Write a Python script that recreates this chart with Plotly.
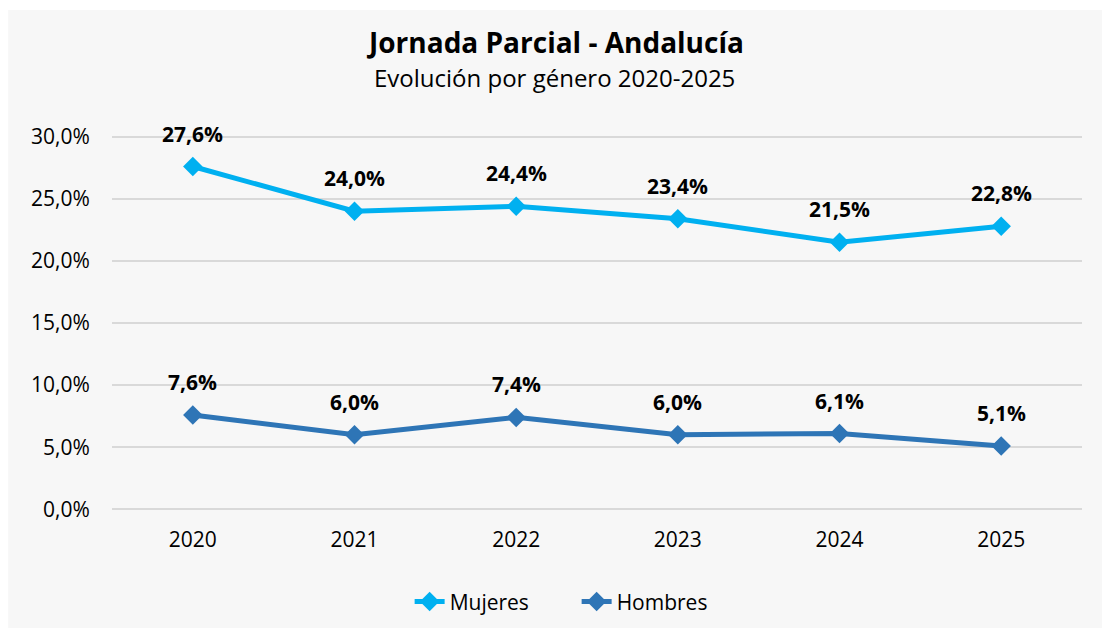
import plotly.graph_objects as go

years = ["2020", "2021", "2022", "2023", "2024", "2025"]
mujeres = [27.6, 24.0, 24.4, 23.4, 21.5, 22.8]
hombres = [7.6, 6.0, 7.4, 6.0, 6.1, 5.1]
y_ticks = [0, 5, 10, 15, 20, 25, 30]

_mujeres_color = "#00b0f0"
_hombres_color = "#2e75b6"
_font = "Open Sans"


def pct(v):
    return f"{v:.1f}".replace(".", ",") + "%"


fig = go.Figure()

for name, vals, color in [("Mujeres", mujeres, _mujeres_color),
                          ("Hombres", hombres, _hombres_color)]:
    fig.add_trace(go.Scatter(x=years, y=vals, name=name, mode="lines+markers",
                             line=dict(color=color, width=5),
                             marker=dict(symbol="diamond", size=15, color=color),
                             cliponaxis=False))
    # data labels, x given as category index so plotly doesn't read "2020" as a position
    for i, v in enumerate(vals):
        fig.add_annotation(x=i, y=v, text="<b>" + pct(v) + "</b>", showarrow=False,
                           yshift=33, font=dict(size=21, color="black", family=_font))

# plot area is 380px tall (y range 30.6 units -> 12.4 px per unit), bottom edge at 513px
fig.add_annotation(xref="paper", yref="paper", x=0.4567, y=(513 - 42) / 380, showarrow=False,
                   text="<b>Jornada Parcial - Andalucía</b>", yanchor="middle",
                   font=dict(size=28, color="black", family=_font), xanchor="center")
fig.add_annotation(xref="paper", yref="paper", x=0.4567, y=(513 - 77) / 380, showarrow=False,
                   text="Evolución por género 2020-2025", yanchor="middle",
                   font=dict(size=24, color="black", family=_font), xanchor="center")

fig.update_xaxes(type="category", range=[-0.5, 5.5], showgrid=False, showline=False,
                 ticks="outside", ticklen=8, tickcolor="rgba(0,0,0,0)",
                 tickfont=dict(size=21, color="black", family=_font))
fig.update_yaxes(range=[-0.3, 30.3], tickvals=y_ticks, ticktext=[pct(v) for v in y_ticks],
                 showgrid=True, gridcolor="#d9d9d9", gridwidth=2, zeroline=False,
                 ticks="outside", ticklen=17, tickcolor="rgba(0,0,0,0)",
                 tickfont=dict(size=21, color="black", family=_font))

fig.add_shape(type="rect", xref="paper", yref="paper", x0=-0.107, x1=1.1, y0=-0.4, y1=1.3237,
              fillcolor="#f7f7f7", line_width=0, layer="below")

fig.update_layout(
    width=1102, height=628,
    paper_bgcolor="white", plot_bgcolor="#f7f7f7",
    margin=dict(l=112, r=20, t=133, b=115, autoexpand=False),
    showlegend=True,
    legend=dict(orientation="h", x=0.479, xanchor="center", y=-0.234, yanchor="middle",
                entrywidth=122, entrywidthmode="pixels",
                font=dict(size=21, color="black", family=_font), bgcolor="rgba(0,0,0,0)"),
    font=dict(family=_font),
)

fig.write_html("out.html", config={"displayModeBar": False},
               post_script="document.body.style.margin='0';")
